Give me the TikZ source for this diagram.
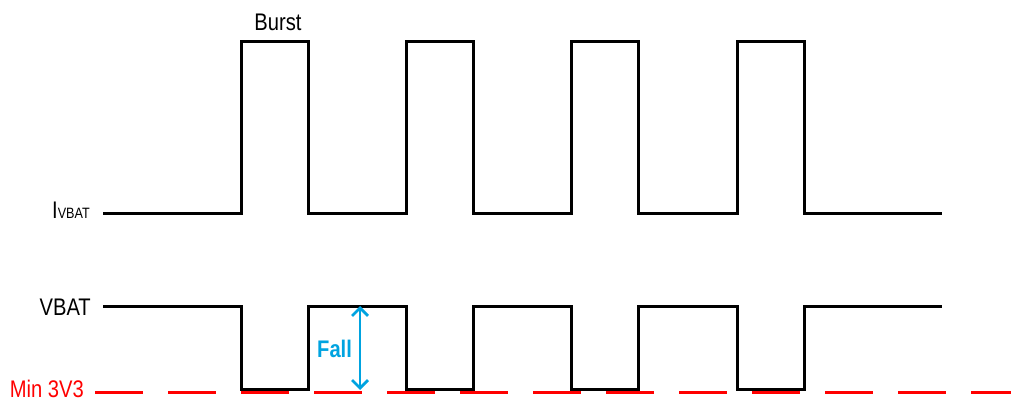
\documentclass[tikz,border=0pt]{standalone}
\usepackage{fontspec}
\setmainfont{Liberation Sans}[FakeStretch=0.84]
\usetikzlibrary{arrows.meta}
\definecolor{fallblue}{RGB}{0,163,224}
\definecolor{minred}{RGB}{255,0,0}
\begin{document}
\begin{tikzpicture}[x=1pt,y=-1pt,
  wave/.style={line width=3pt,line join=miter},
  lbl/.style={inner sep=0pt,font=\fontsize{24}{26}\selectfont},
  minline/.style={line width=3pt,minred,dash pattern=on 48pt off 25pt},
  fallarrow/.style={line width=2.8pt,fallblue,{Straight Barb[length=8pt,width=16pt]}-{Straight Barb[length=8pt,width=16pt]}}]
\useasboundingbox (0,0) rectangle (1011,401);
% labels
\node[lbl,anchor=base] (burst) at (278,31) {Burst};
\node[lbl,anchor=base east] (ivbat) at (90,218) {I{\fontsize{15}{17}\selectfont VBAT}};
\node[lbl,anchor=base east] (vbat) at (91,315) {VBAT};
\node[lbl,anchor=base east,text=minred] (min) at (84,397.5) {Min 3V3};
\node[lbl,anchor=base west,text=fallblue,font=\fontsize{24}{26}\selectfont\bfseries] (fall) at (317,357) {Fall};
% min line
\draw[minline] (95,392) -- (1011,392);
% current waveform
\draw[wave] (103,213) -- (241,213) -- (241,42) -- (308,42) -- (308,213)
  -- (406,213) -- (406,42) -- (473,42) -- (473,213)
  -- (571,213) -- (571,42) -- (638,42) -- (638,213)
  -- (737,213) -- (737,42) -- (804,42) -- (804,213) -- (942,213);
% voltage waveform
\draw[wave] (103,306) -- (241,306) -- (241,389) -- (308,389) -- (308,306)
  -- (406,306) -- (406,389) -- (473,389) -- (473,306)
  -- (571,306) -- (571,389) -- (638,389) -- (638,306)
  -- (737,306) -- (737,389) -- (804,389) -- (804,306) -- (942,306);
% fall arrow
\coordinate (ftop) at (360,306);
\coordinate (fbot) at (360,390);
\draw[fallarrow] (ftop) -- (fbot);
\end{tikzpicture}
\end{document}
